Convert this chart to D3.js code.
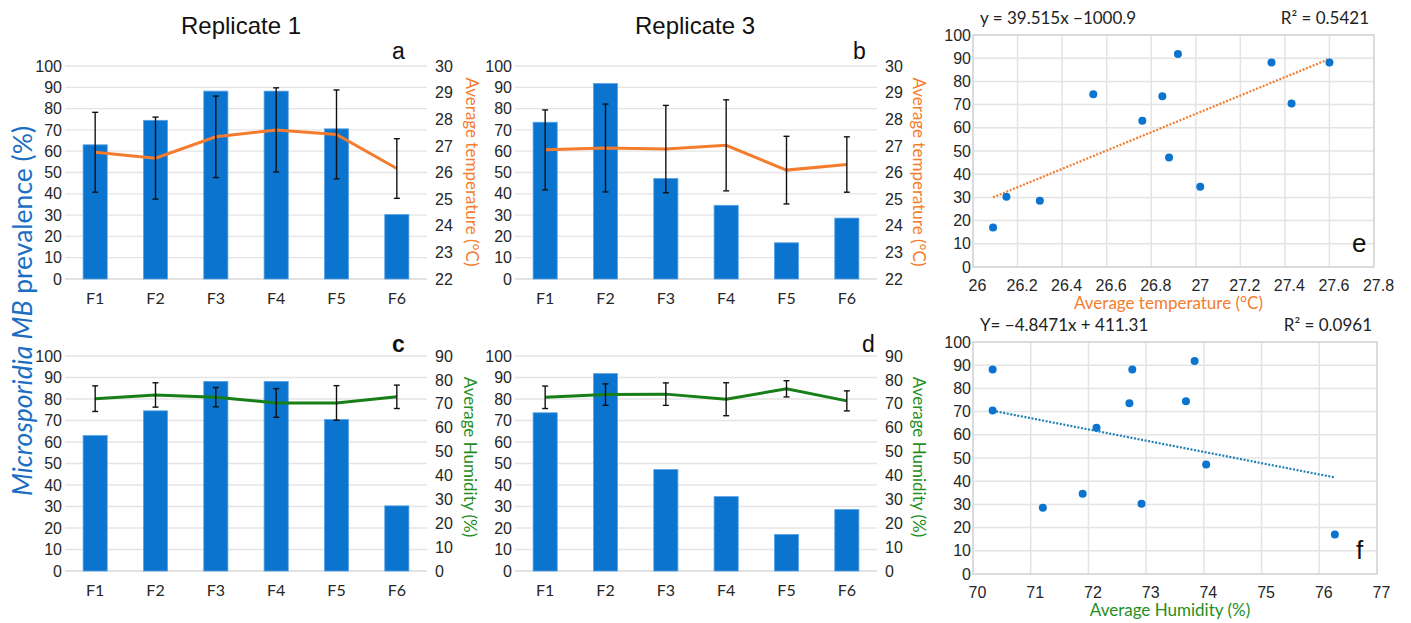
<!DOCTYPE html>
<html>
<head>
<meta charset="utf-8">
<script src="https://cdn.jsdelivr.net/npm/d3@7"></script>
<style>
  body { margin: 0; background: #fff; }
  svg { display: block; font-family: Lato, "Open Sans", sans-serif; }
  .tick text { fill: #262626; font-size: 16px; }
</style>
</head>
<body>
<svg id="fig" width="1411" height="623"></svg>
<script>
// categories and values
const categories = ['F1', 'F2', 'F3', 'F4', 'F5', 'F6'];
const rep1Prevalence = [63.0, 74.5, 88.2, 88.2, 70.5, 30.3];
const rep3Prevalence = [73.6, 91.8, 47.2, 34.6, 17.0, 28.6];
const rep1Temp = [26.76, 26.54, 27.34, 27.60, 27.43, 26.15];
const rep1TempSd = [1.50, 1.54, 1.53, 1.58, 1.67, 1.12];
const rep3Temp = [26.85, 26.92, 26.88, 27.02, 26.09, 26.30];
const rep3TempSd = [1.50, 1.65, 1.64, 1.71, 1.27, 1.04];
const rep1Humidity = [72.14, 73.69, 72.76, 70.34, 70.34, 72.92];
const rep1HumSd = [5.36, 5.10, 4.05, 6.00, 7.25, 4.90];
const rep3Humidity = [72.71, 73.84, 74.04, 71.90, 76.27, 71.21];
const rep3HumSd = [4.70, 4.50, 4.70, 6.90, 3.40, 4.20];

const prevTicks = d3.range(0, 101, 10);
const tempTicks = d3.range(22, 31, 1);
const humTicks = d3.range(0, 91, 10);
const tempXTicks = [26, 26.2, 26.4, 26.6, 26.8, 27, 27.2, 27.4, 27.6, 27.8];
const humXTicks = [70, 71, 72, 73, 74, 75, 76, 77];

const trendTemp = { slope: 39.515, intercept: -1000.9, eq: 'y = 39.515x \u22121000.9', r2: '0.5421' };
const trendHum = { slope: -4.8471, intercept: 411.31, eq: 'Y= \u22124.8471x + 411.31', r2: '0.0961' };

const BLUE = '#0a74cf', ORANGE = '#f47c2c', GREEN = '#187f18', GRID = '#e4e4e4';

const svg = d3.select('#fig');

function drawCombo(o) {
  const g = svg.append('g');
  const x = d3.scaleBand().domain(categories).range([o.left, o.right])
      .paddingInner(0.6).paddingOuter(0.3);
  const y = d3.scaleLinear().domain([0, 100]).range([o.bottom, o.top]);
  const y2 = d3.scaleLinear().domain(o.rightDomain).range([o.bottom, o.top]);

  // gridlines
  g.selectAll('.grid').data(prevTicks).enter().append('line')
    .attr('x1', o.left).attr('x2', o.right)
    .attr('y1', d => y(d)).attr('y2', d => y(d))
    .attr('stroke', d => d === 0 ? '#d9d9d9' : GRID).attr('stroke-width', 1.3);

  // bars
  g.selectAll('.bar').data(o.bars).enter().append('rect')
    .attr('x', (d, i) => x(categories[i]))
    .attr('width', x.bandwidth())
    .attr('y', d => y(d))
    .attr('height', d => y(0) - y(d))
    .attr('fill', BLUE)
    .attr('stroke', '#5aa3e6').attr('stroke-width', 0.8);

  // left axis
  const la = g.append('g').attr('transform', `translate(${o.left - 3},0)`)
    .call(d3.axisLeft(y).tickValues(prevTicks).tickSize(0).tickPadding(0));
  la.select('.domain').remove();

  // right axis
  const ra = g.append('g').attr('transform', `translate(${o.right + 8},0)`)
    .call(d3.axisRight(y2).tickValues(o.rightTicks).tickSize(0).tickPadding(0));
  ra.select('.domain').remove();

  // x labels
  g.selectAll('.cat').data(categories).enter().append('text')
    .attr('x', d => x(d) + x.bandwidth() / 2)
    .attr('y', o.bottom + 25)
    .attr('text-anchor', 'middle')
    .attr('fill', '#262626').attr('font-size', 16)
    .text(d => d);

  // line
  const cx = i => x(categories[i]) + x.bandwidth() / 2;
  g.append('path')
    .datum(o.line)
    .attr('fill', 'none').attr('stroke', o.color).attr('stroke-width', 3)
    .attr('d', d3.line().x((d, i) => cx(i)).y(d => y2(d)));

  // error bars
  o.line.forEach((v, i) => {
    const lo = y2(v - o.sd[i]), hi = y2(v + o.sd[i]);
    g.append('line').attr('x1', cx(i)).attr('x2', cx(i)).attr('y1', lo).attr('y2', hi)
      .attr('stroke', '#111').attr('stroke-width', 1.4);
    [lo, hi].forEach(yy => g.append('line')
      .attr('x1', cx(i) - 3).attr('x2', cx(i) + 3).attr('y1', yy).attr('y2', yy)
      .attr('stroke', '#111').attr('stroke-width', 1.4));
  });

  // panel letter
  g.append('text').attr('x', o.letterX).attr('y', o.letterY)
    .attr('font-family', 'Liberation Sans, Arial, sans-serif')
    .attr('font-size', 23).attr('fill', '#111')
    .attr('font-weight', o.letterBold ? 'bold' : 'normal')
    .text(o.letter);
}

function drawScatter(o) {
  const g = svg.append('g');
  const x = d3.scaleLinear().domain(o.xDomain).range([o.left, o.right]);
  const y = d3.scaleLinear().domain([0, 100]).range([o.bottom, o.top]);

  g.selectAll('.vg').data(o.xTicks).enter().append('line')
    .attr('x1', d => x(d)).attr('x2', d => x(d)).attr('y1', o.top).attr('y2', o.bottom)
    .attr('stroke', GRID).attr('stroke-width', 1.5);
  g.selectAll('.hg').data(prevTicks).enter().append('line')
    .attr('x1', o.left).attr('x2', o.right).attr('y1', d => y(d)).attr('y2', d => y(d))
    .attr('stroke', GRID).attr('stroke-width', 1.5);
  g.append('rect').attr('x', o.left).attr('y', o.top)
    .attr('width', o.right - o.left).attr('height', o.bottom - o.top)
    .attr('fill', 'none').attr('stroke', '#d6d6d6').attr('stroke-width', 1.5);

  const ya = g.append('g').attr('transform', `translate(${o.left - 2},0)`)
    .call(d3.axisLeft(y).tickValues(prevTicks).tickSize(0).tickPadding(0));
  ya.select('.domain').remove();
  ya.selectAll('text').attr('font-size', 16.5);

  const xa = g.append('g').attr('transform', `translate(4,${o.bottom + 4})`)
    .call(d3.axisBottom(x).tickValues(o.xTicks).tickSize(0).tickPadding(9)
      .tickFormat(d3.format('')));
  xa.select('.domain').remove();
  xa.selectAll('text').attr('font-size', 16.5);

  // trendline
  const xs = d3.extent(o.xs);
  g.append('line')
    .attr('x1', x(xs[0])).attr('x2', x(xs[1]))
    .attr('y1', y(o.trend.slope * xs[0] + o.trend.intercept))
    .attr('y2', y(o.trend.slope * xs[1] + o.trend.intercept))
    .attr('stroke', o.trendColor).attr('stroke-width', 2.2)
    .attr('stroke-dasharray', '2,1.6');

  g.selectAll('.pt').data(o.xs).enter().append('circle')
    .attr('cx', d => x(d)).attr('cy', (d, i) => y(o.ys[i]))
    .attr('r', 4).attr('fill', BLUE);

  g.append('text').attr('x', o.left + 7).attr('y', o.top - 11)
    .attr('font-size', 17).attr('fill', '#222').text(o.trend.eq);
  g.append('text').attr('x', o.right - 5).attr('y', o.top - 11)
    .attr('text-anchor', 'end').attr('font-size', 17).attr('fill', '#222')
    .text('R\u00b2 = ' + o.trend.r2);

  g.append('text').attr('x', (o.left + o.right) / 2 - 5).attr('y', o.bottom + 42)
    .attr('text-anchor', 'middle').attr('font-size', 17).attr('fill', o.labelColor)
    .text(o.label);
  g.append('text')
    .attr('transform', `translate(${o.left - 54},${(o.top + o.bottom) / 2 + o.yLabelShift}) rotate(90)`)
    .attr('text-anchor', 'middle').attr('dominant-baseline', 'central')
    .attr('font-size', 17).attr('fill', o.labelColor).text(o.label);

  g.append('text').attr('x', o.letterX).attr('y', o.letterY)
    .attr('font-family', 'Liberation Sans, Arial, sans-serif')
    .attr('font-size', 26).attr('fill', '#111').text(o.letter);
}

// titles
svg.append('text').attr('x', 241).attr('y', 34).attr('text-anchor', 'middle')
  .attr('font-family', 'Liberation Sans, Arial, sans-serif').attr('font-size', 24)
  .attr('fill', '#111').text('Replicate 1');
svg.append('text').attr('x', 695).attr('y', 34).attr('text-anchor', 'middle')
  .attr('font-family', 'Liberation Sans, Arial, sans-serif').attr('font-size', 24)
  .attr('fill', '#111').text('Replicate 3');

drawCombo({ left: 65, right: 427, top: 66, bottom: 279, bars: rep1Prevalence,
  line: rep1Temp, sd: rep1TempSd, color: ORANGE, rightDomain: [22, 30], rightTicks: tempTicks,
  letter: 'a', letterX: 392, letterY: 59 });
drawCombo({ left: 515, right: 877, top: 66, bottom: 279, bars: rep3Prevalence,
  line: rep3Temp, sd: rep3TempSd, color: ORANGE, rightDomain: [22, 30], rightTicks: tempTicks,
  letter: 'b', letterX: 853, letterY: 59 });
drawCombo({ left: 65, right: 427, top: 356, bottom: 571, bars: rep1Prevalence,
  line: rep1Humidity, sd: rep1HumSd, color: GREEN, rightDomain: [0, 90], rightTicks: humTicks,
  letter: 'c', letterX: 392, letterY: 352, letterBold: true });
drawCombo({ left: 515, right: 877, top: 356, bottom: 571, bars: rep3Prevalence,
  line: rep3Humidity, sd: rep3HumSd, color: GREEN, rightDomain: [0, 90], rightTicks: humTicks,
  letter: 'd', letterX: 862, letterY: 352 });

// secondary axis titles between columns
svg.append('text').attr('transform', 'translate(472,172) rotate(90)')
  .attr('text-anchor', 'middle').attr('dominant-baseline', 'central')
  .attr('font-size', 17).attr('fill', ORANGE).text('Average temperature (\u00b0C)');
svg.append('text').attr('transform', 'translate(470,457) rotate(90)')
  .attr('text-anchor', 'middle').attr('dominant-baseline', 'central')
  .attr('font-size', 17).attr('fill', '#1f8f1f').text('Average Humidity (%)');

// shared y label
const yl = svg.append('text').attr('transform', 'translate(22,311) rotate(-90)')
  .attr('text-anchor', 'middle').attr('dominant-baseline', 'central')
  .attr('font-size', 26.5).attr('fill', '#1b6ec2');
yl.append('tspan').attr('font-style', 'italic').text('Microsporidia MB');
yl.append('tspan').text(' prevalence (%)');

drawScatter({ left: 973, right: 1374, top: 35, bottom: 267, xDomain: [26, 27.8], xTicks: tempXTicks,
  xs: rep1Temp.concat(rep3Temp), ys: rep1Prevalence.concat(rep3Prevalence),
  trend: trendTemp, trendColor: ORANGE, label: 'Average temperature (\u00b0C)', labelColor: ORANGE,
  yLabelShift: 21, letter: 'e', letterX: 1352, letterY: 252 });
drawScatter({ left: 973, right: 1377, top: 342, bottom: 574, xDomain: [70, 77], xTicks: humXTicks,
  xs: rep1Humidity.concat(rep3Humidity), ys: rep1Prevalence.concat(rep3Prevalence),
  trend: trendHum, trendColor: '#1f7fb5', label: 'Average Humidity (%)', labelColor: '#1f8f1f',
  yLabelShift: -1, letter: 'f', letterX: 1356, letterY: 559 });
</script>
</body>
</html>
